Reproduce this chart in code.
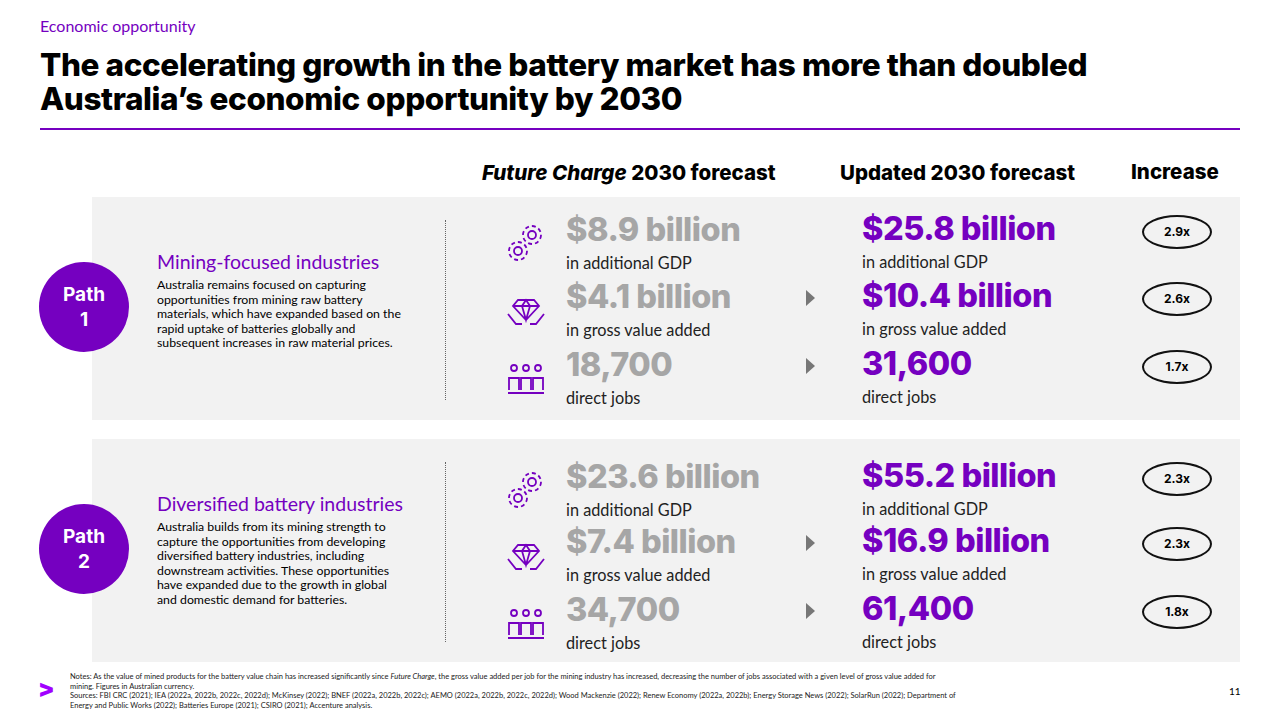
<!DOCTYPE html>
<html><head><meta charset="utf-8">
<script src="https://cdn.jsdelivr.net/npm/chart.js@4"></script>
<style>
body{margin:0;width:1280px;height:720px;background:#fff;font-family:Lato,"Open Sans",sans-serif;position:relative;overflow:hidden}
.a{position:absolute}
.big{font-family:Inter,sans-serif;font-weight:800;font-size:32.5px;letter-spacing:-0.5px;line-height:1}
.sub{font-size:16.3px;color:#222}
.pill{width:66px;height:30px;border:2px solid #111;border-radius:50%;text-align:center;line-height:30px;font-family:Inter;font-weight:700;font-size:12px}
.hdr{font-family:Inter;font-weight:800;font-size:20.5px}
</style></head><body>
<div class="a" style="left:40px;top:16px;color:#7500c0;font-size:16px">Economic opportunity</div>
<div class="a" style="left:40px;top:48px;font-family:Inter;font-weight:800;font-size:31.5px;line-height:34px;letter-spacing:-0.4px">The accelerating growth in the battery market has more than doubled<br>Australia’s economic opportunity by 2030</div>
<div class="a" style="left:40px;top:128px;width:1200px;height:2px;background:#7500c0"></div>
<div class="a hdr" style="left:482px;top:160px"><i>Future Charge</i> 2030 forecast</div>
<div class="a hdr" style="left:840px;top:160px">Updated 2030 forecast</div>
<div class="a hdr" style="left:1131px;top:159px">Increase</div>
<div id="root"></div>
<div class="a" style="left:70px;top:672px;font-size:7.5px;line-height:9.5px;color:#222;width:890px">Notes: As the value of mined products for the battery value chain has increased significantly since <i>Future Charge</i>, the gross value added per job for the mining industry has increased, decreasing the number of jobs associated with a given level of gross value added for mining. Figures in Australian currency.<br>Sources: FBI CRC (2021); IEA (2022a, 2022b, 2022c, 2022d); McKinsey (2022); BNEF (2022a, 2022b, 2022c); AEMO (2022a, 2022b, 2022c, 2022d); Wood Mackenzie (2022); Renew Economy (2022a, 2022b); Energy Storage News (2022); SolarRun (2022); Department of Energy and Public Works (2022); Batteries Europe (2021); CSIRO (2021); Accenture analysis.</div>
<div class="a" style="left:38px;top:674px;color:#a100ff;font-family:Inter;font-weight:900;font-size:24px">&gt;</div>
<div class="a" style="left:1229px;top:685px;font-size:10px">11</div>
<script>
const paths=["Path\n1","Path\n2"];
const pathTitles=["Mining-focused industries","Diversified battery industries"];
const pathTexts=["Australia remains focused on capturing opportunities from mining raw battery materials, which have expanded based on the rapid uptake of batteries globally and subsequent increases in raw material prices.","Australia builds from its mining strength to capture the opportunities from developing diversified battery industries, including downstream activities. These opportunities have expanded due to the growth in global and domestic demand for batteries."];
const metrics=["in additional GDP","in gross value added","direct jobs"];
const oldValues=[["$8.9 billion","$4.1 billion","18,700"],["$23.6 billion","$7.4 billion","34,700"]];
const newValues=[["$25.8 billion","$10.4 billion","31,600"],["$55.2 billion","$16.9 billion","61,400"]];
const increases=[["2.9x","2.6x","1.7x"],["2.3x","2.3x","1.8x"]];
const icons=[
'<svg width="44" height="44" viewBox="0 0 44 44" fill="none" stroke="#7500c0" stroke-width="1.8"><circle cx="28" cy="14" r="4"/><circle cx="28" cy="14" r="9" stroke-dasharray="4 3"/><circle cx="14" cy="30" r="4"/><circle cx="14" cy="30" r="9" stroke-dasharray="4 3"/></svg>',
'<svg width="44" height="44" viewBox="0 0 44 44" fill="none" stroke="#7500c0" stroke-width="1.8"><path d="M14 12h16l5 6-13 14-13-14z M9 18h26 M22 12l-4 6 4 14 4-14z"/><path d="M4 26l8 10h6 M40 26l-8 10h-6"/></svg>',
'<svg width="44" height="44" viewBox="0 0 44 44" fill="none" stroke="#7500c0" stroke-width="1.8"><circle cx="10" cy="12" r="3"/><circle cx="22" cy="12" r="3"/><circle cx="34" cy="12" r="3"/><path d="M5 34v-12h10v12 M17 34v-12h10v12 M29 34v-12h10v12 M4 37h36"/></svg>'];
const rowY=[[231,298,366],[478,543,611]];
let h='';
[197,439].forEach((top,p)=>{
 h+=`<div class="a" style="left:92px;top:${top}px;width:1148px;height:223px;background:#f2f2f2"></div>`;
 const cy=top+111;
 h+=`<div class="a" style="left:39px;top:${cy-46}px;width:90px;height:90px;border-radius:50%;background:#7500c0;color:#fff;font-family:Inter;font-weight:700;font-size:19px;display:flex;align-items:center;justify-content:center;text-align:center;line-height:25px;white-space:pre">${paths[p]}</div>`;
 h+=`<div class="a" style="left:157px;top:${cy-58}px;color:#7500c0;font-size:19.5px">${pathTitles[p]}</div>`;
 h+=`<div class="a" style="left:157px;top:${cy-30}px;width:250px;font-size:12.3px;line-height:14.5px">${pathTexts[p]}</div>`;
 h+=`<div class="a" style="left:445px;top:${top+23}px;height:180px;border-left:1.5px dotted #666"></div>`;
 for(let r=0;r<3;r++){
  const y=rowY[p][r];
  h+=`<div class="a" style="left:504px;top:${y-10}px">${icons[r]}</div>`;
  h+=`<div class="a big" style="left:566px;top:${y-17}px;color:#a6a6a6">${oldValues[p][r]}</div>`;
  h+=`<div class="a sub" style="left:566px;top:${y+22}px">${metrics[r]}</div>`;
  if(r>0) h+=`<div class="a" style="left:806px;top:${y-8}px;width:0;height:0;border-top:8px solid transparent;border-bottom:8px solid transparent;border-left:9px solid #777"></div>`;
  h+=`<div class="a big" style="left:862px;top:${y-18}px;color:#7500c0">${newValues[p][r]}</div>`;
  h+=`<div class="a sub" style="left:862px;top:${y+21}px">${metrics[r]}</div>`;
  h+=`<div class="a pill" style="left:1142px;top:${y-16}px">${increases[p][r]}</div>`;
 }
});
document.getElementById('root').innerHTML=h;
</script>
</body></html>
